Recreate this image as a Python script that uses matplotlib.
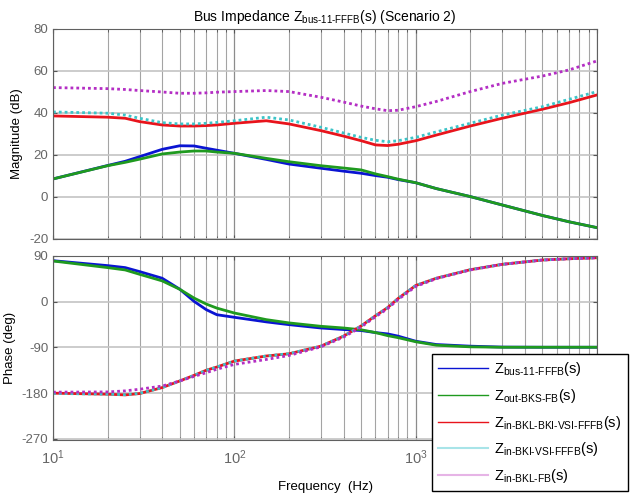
import numpy as np
import matplotlib
matplotlib.use("Agg")
import matplotlib.pyplot as plt
from matplotlib.ticker import LogLocator, NullFormatter, FuncFormatter
from matplotlib.lines import Line2D

plt.rcParams['font.family'] = ['Liberation Sans', 'DejaVu Sans']
plt.rcParams['mathtext.fontset'] = 'custom'
plt.rcParams['mathtext.rm'] = 'Liberation Sans'
plt.rcParams['mathtext.it'] = 'Liberation Sans'
plt.rcParams['mathtext.bf'] = 'Liberation Sans'
plt.rcParams['axes.unicode_minus'] = False

freq = [10, 20, 25, 30, 40, 50, 60, 70, 80, 100, 150, 200, 300, 400, 500,
        600, 700, 800, 1000, 1300, 2000, 3000, 5000, 7000, 10000]

mag_bus = [8.6, 15, 17, 19.2, 22.7, 24.4, 24.3, 23.2, 22.3, 20.8, 17.9, 15.7, 13.7, 12.3, 11.3,
           10.2, 9.4, 8.3, 6.8, 4, 0.2, -3.8, -8.8, -11.8, -14.6]
mag_out = [8.6, 14.9, 16.5, 18, 20.5, 21.4, 21.9, 21.9, 21.4, 20.8, 18.4, 16.8, 14.9, 13.8, 12.9,
           11, 9.7, 8.5, 6.8, 4, 0.2, -3.8, -8.8, -11.8, -14.6]
mag_bkl_bki = [38.6, 38, 37.5, 35.9, 34.3, 33.8, 33.8, 34, 34.3, 35.1, 36.3, 34.8, 31.6, 29, 26.8,
               24.8, 24.5, 25.1, 26.8, 29.5, 33.8, 37.5, 41.8, 44.9, 48.6]
mag_bki = [40.5, 39.9, 39, 37.5, 35.4, 34.8, 34.8, 35.1, 35.5, 36.3, 38, 36.7, 33.2, 30.5, 28.4,
           27, 26.3, 26.8, 28.4, 31, 35.1, 39, 43, 46.5, 50.2]
mag_bkl = [52.1, 51.6, 51.2, 50.7, 50, 49.4, 49.4, 49.6, 49.9, 50.2, 50.7, 50.2, 47.5, 45.2, 43.3,
           42, 41.1, 41.3, 43, 45.5, 50.2, 54.1, 57.6, 60.5, 64.8]

ph_bus = [80.2, 70.5, 66.6, 58.8, 45.7, 24.2, 0.2, -16, -25.9, -31, -40, -45.4, -52, -55, -57,
          -61, -63.6, -68, -78, -84.5, -87.7, -89.5, -89.8, -89.8, -89.8]
ph_out = [79.6, 66.6, 62, 53.5, 40.5, 24, 6.7, -5, -12.9, -22.6, -35.6, -42, -48.7, -52, -55.5,
          -61, -67, -71, -79, -85.8, -89, -89.8, -89.8, -89.8, -89.8]
ph_bkl_bki = [-180, -182, -183.4, -180.8, -169, -156, -145, -135, -128.7, -117, -107, -102.7, -87.7,
              -68, -48, -28, -12, 6, 31.4, 45.7, 62.5, 73, 81.5, 84, 86]
ph_bki = [-180.5, -182, -183, -180.5, -169, -156, -145, -135, -128.7, -117, -107, -102.5, -87.7,
          -68, -48, -28, -12, 6, 31.4, 45.7, 62.5, 73, 81.5, 84, 86]
ph_bkl = [-178, -177.6, -175.5, -172.3, -166, -156, -147, -139.8, -133, -123.5, -113.8, -106, -89,
          -70, -50, -30, -14, 4, 29.5, 45, 62, 73, 81.5, 84, 86]

labels = [r"Z$_{\text{bus-11-FFFB}}$(s)", r"Z$_{\text{out-BKS-FB}}$(s)",
          r"Z$_{\text{in-BKL-BKI-VSI-FFFB}}$(s)", r"Z$_{\text{in-BKI-VSI-FFFB}}$(s)",
          r"Z$_{\text{in-BKL-FB}}$(s)"]

c_blue = '#0a14d2'
c_green = '#1f9a1f'
c_red = '#e8141c'
c_cyan = '#3cc4c8'
c_mag = '#b42ec4'
dot = (0, (1, 1.1))
lw = 2.0

fig = plt.figure(figsize=(6.38, 4.94), dpi=100)
ax1 = fig.add_axes([0.0831, 0.5162, 0.8527, 0.4251])
ax2 = fig.add_axes([0.0831, 0.1093, 0.8527, 0.3731])

tickc = '#666666'
for ax in (ax1, ax2):
    ax.set_xscale('log')
    ax.set_xlim(10, 10000)
    ax.xaxis.set_minor_locator(LogLocator(base=10, subs=np.arange(2, 10)))
    ax.xaxis.set_minor_formatter(NullFormatter())
    ax.grid(True, which='major', axis='x', color='#8c8c8c', lw=0.9)
    ax.grid(True, which='minor', axis='x', color='#a4a4a4', lw=0.8)
    ax.grid(True, which='major', axis='y', color='#c4c4c4', lw=1.2)
    ax.tick_params(which='both', direction='in', top=True, right=True, colors='#555555',
                   labelcolor=tickc, labelsize=9.5, length=3)
    ax.tick_params(which='minor', length=2)
    for s in ax.spines.values():
        s.set_color('#606060')
        s.set_linewidth(0.8)
    ax.set_axisbelow(True)

ax1.plot(freq, mag_bus, color=c_blue, lw=lw)
ax1.plot(freq, mag_out, color=c_green, lw=lw)
ax1.plot(freq, mag_bkl_bki, color=c_red, lw=lw)
ax1.plot(freq, mag_bki, color=c_cyan, lw=lw, ls=dot)
ax1.plot(freq, mag_bkl, color=c_mag, lw=lw, ls=dot)
ax1.set_ylim(-20, 80)
ax1.set_yticks([-20, 0, 20, 40, 60, 80])
ax1.xaxis.set_major_formatter(NullFormatter())
ax1.set_ylabel('Magnitude (dB)', fontsize=9.5, labelpad=4)
ax1.set_title(r"Bus Impedance Z$_{\text{bus-11-FFFB}}$(s) (Scenario 2)", fontsize=10, pad=6)

ax2.plot(freq, ph_bus, color=c_blue, lw=lw)
ax2.plot(freq, ph_out, color=c_green, lw=lw)
ax2.plot(freq, ph_bkl_bki, color=c_red, lw=lw)
ax2.plot(freq, ph_bki, color=c_cyan, lw=lw, ls=dot)
ax2.plot(freq, ph_bkl, color=c_mag, lw=lw, ls=dot)
ax2.set_ylim(-272, 90)
ax2.set_yticks([-270, -180, -90, 0, 90])
ax2.set_ylabel('Phase (deg)', fontsize=9.5, labelpad=4)
ax2.set_xlabel('Frequency  (Hz)', fontsize=9.5, labelpad=10)


def dec_fmt(v, pos):
    e = int(round(np.log10(v)))
    if e >= 4:
        return ''
    return r'10$^{%d}$' % e


ax2.xaxis.set_major_formatter(FuncFormatter(dec_fmt))
ax2.tick_params(axis='x', which='major', pad=6, labelsize=10.5)

leg_handles = [Line2D([], [], color=c_blue, lw=1.0),
               Line2D([], [], color=c_green, lw=1.0),
               Line2D([], [], color=c_red, lw=1.0),
               Line2D([], [], color='#a8e4e8', lw=1.5),
               Line2D([], [], color='#e6b4e6', lw=1.5)]
leg = fig.legend(leg_handles, labels, loc='upper left',
                 bbox_to_anchor=(432 / 638, 1 - 354 / 494), fontsize=10.5,
                 frameon=True, fancybox=False, edgecolor='black', framealpha=1,
                 handlelength=3.4, labelspacing=0.6, borderpad=0.42, handletextpad=0.45,
                 borderaxespad=0)
leg.get_frame().set_linewidth(1.0)

fig.savefig('out.png', dpi=100)
